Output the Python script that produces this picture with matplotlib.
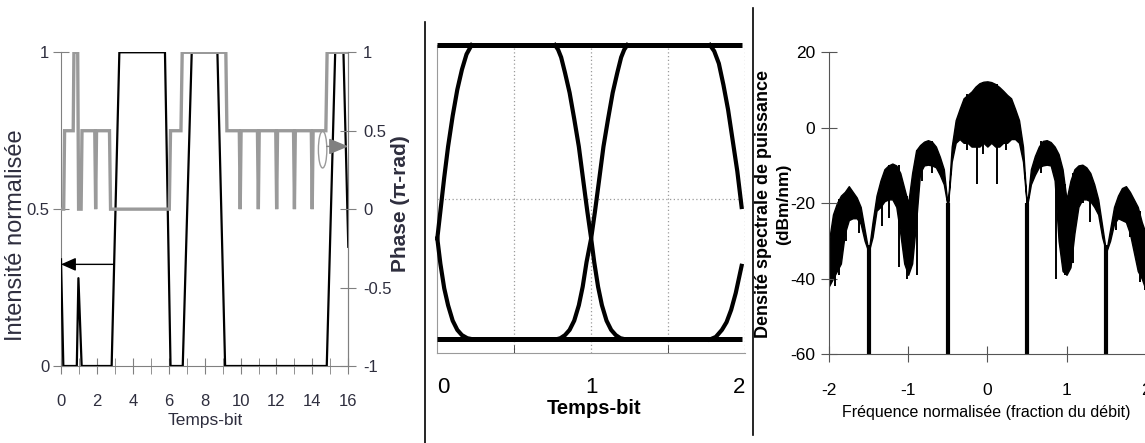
import matplotlib
matplotlib.use("Agg")
from matplotlib import pyplot as plt
from matplotlib.patches import Ellipse

plt.rcParams['font.family'] = ['Liberation Sans', 'DejaVu Sans']
plt.rcParams['axes.unicode_minus'] = False

W, H = 1145, 443

# ---- panel 1 : intensity / phase vs bit time ----
int_t = [0.0, 0.13, 0.88, 0.97, 1.15, 2.82, 3.25, 5.79, 6.1, 6.78, 7.28,
         8.71, 9.14, 14.8, 15.27, 15.73, 16.0]
int_v = [0.34, 0, 0, 0.28, 0, 0, 1, 1, 0, 0, 1, 1, 0, 0, 1, 1, 0.38]

phase_t = [0.0, 0.15, 0.2, 0.68, 0.72, 0.93, 0.98, 1.12, 1.17,
           1.88, 1.93, 1.98,
           2.70, 2.76, 6.03, 6.10, 6.68, 6.75, 9.18, 9.24,
           9.93, 9.98, 10.03,
           10.94, 10.99, 11.04,
           11.96, 12.01, 12.06,
           12.95, 13.00, 13.05,
           13.94, 13.99, 14.04,
           14.75, 14.82, 16.0]
phase_v = [0, 0, 0.5, 0.5, 1, 1, 0, 0, 0.5,
           0.5, 0, 0.5,
           0.5, 0, 0, 0.5, 0.5, 1, 1, 0.5,
           0.5, 0, 0.5,
           0.5, 0, 0.5,
           0.5, 0, 0.5,
           0.5, 0, 0.5,
           0.5, 0, 0.5,
           0.5, 1, 1]

# ---- panel 2 : eye diagram (bit time, normalised intensity) ----
eye_top = 1.0
eye_bottom = 0.044
eye_curves = [
    ([0.0, 0.02, 0.045, 0.07, 0.10, 0.13, 0.16, 0.19, 0.223],
     [0.372, 0.46, 0.57, 0.67, 0.77, 0.855, 0.92, 0.97, 1.0]),
    ([0.0, 0.02, 0.045, 0.07, 0.10, 0.13, 0.16, 0.195, 0.235],
     [0.372, 0.29, 0.21, 0.155, 0.105, 0.075, 0.058, 0.048, 0.044]),
    ([0.765, 0.785, 0.805, 0.83, 0.86, 0.89, 0.92, 0.95, 0.975, 1.0,
      1.02, 1.045, 1.07, 1.10, 1.13, 1.16, 1.19, 1.225],
     [1.0, 0.985, 0.96, 0.91, 0.845, 0.76, 0.67, 0.555, 0.46, 0.372,
      0.295, 0.215, 0.155, 0.105, 0.075, 0.058, 0.048, 0.044]),
    ([0.77, 0.80, 0.83, 0.86, 0.89, 0.92, 0.945, 0.97, 1.0,
      1.025, 1.05, 1.08, 1.11, 1.14, 1.17, 1.195, 1.215, 1.235],
     [0.044, 0.048, 0.058, 0.075, 0.105, 0.155, 0.215, 0.295, 0.372,
      0.46, 0.555, 0.67, 0.76, 0.845, 0.91, 0.96, 0.985, 1.0]),
    ([1.772, 1.80, 1.83, 1.86, 1.89, 1.92, 1.95, 1.978],
     [1.0, 0.98, 0.94, 0.87, 0.79, 0.69, 0.59, 0.474]),
    ([1.772, 1.81, 1.85, 1.88, 1.91, 1.94, 1.978],
     [0.044, 0.052, 0.075, 0.10, 0.14, 0.195, 0.283]),
]

# ---- panel 3 : power spectral density ----
freq = [-2.00, -1.95, -1.90, -1.85, -1.80, -1.75, -1.70, -1.65, -1.60, -1.55,
        -1.50, -1.45, -1.40, -1.35, -1.30, -1.25, -1.20, -1.15, -1.10, -1.05,
        -1.00, -0.95, -0.90, -0.85, -0.80, -0.75, -0.70, -0.65, -0.60, -0.55,
        -0.50, -0.45, -0.40, -0.35, -0.30, -0.25, -0.20, -0.15, -0.10, -0.05,
        0.00, 0.05, 0.10, 0.15, 0.20, 0.25, 0.30, 0.35, 0.40, 0.45,
        0.50, 0.55, 0.60, 0.65, 0.70, 0.75, 0.80, 0.85, 0.90, 0.95,
        1.00, 1.05, 1.10, 1.15, 1.20, 1.25, 1.30, 1.35, 1.40, 1.45,
        1.50, 1.55, 1.60, 1.65, 1.70, 1.75, 1.80, 1.85, 1.90, 1.95, 2.00]
psd_high = [-30, -23, -20, -18, -17, -15.5, -17, -18.5, -21, -27,
            -33, -25, -18, -14, -11, -10, -9.5, -10, -12, -16,
            -20, -12, -6, -4.6, -3.7, -3.3, -3.7, -5, -7.7, -11,
            -21, -5, 2, 5, 7.8, 8.7, 9.6, 10.9, 11.8, 12.2,
            12.3, 12.1, 11.6, 10.8, 9.8, 8.7, 7.8, 5, 2, -5,
            -21, -11, -7.5, -5, -3.5, -3.3, -3.8, -5, -7, -11,
            -19, -14, -11, -10, -9.8, -10.5, -12, -15, -19, -26,
            -33, -27, -21, -18, -16, -15.5, -17, -19, -21, -25, -28]
psd_low = [-42, -40, -38, -36, -28, -24.5, -24, -24, -25.5, -30,
           -33, -29, -22, -21, -19.5, -19, -19, -21, -28, -36,
           -39, -36, -25, -12, -10, -9.8, -10, -10.5, -12.5, -15,
           -21, -9, -4, -3, -4, -4, -5, -5, -5, -4,
           -5, -4, -5, -5, -4, -4, -3, -3, -4, -9,
           -21, -15, -12.5, -10.5, -10, -9.8, -10, -14, -30, -38,
           -39, -37, -28, -21, -19, -19, -19.5, -21, -23, -29,
           -33, -30, -25.5, -24, -24.5, -25, -28, -33, -38, -40, -43]
spike_f = [-1.93, -1.87, -1.78, -1.62, -1.33, -1.24, -1.12, -1.02, -0.89,
           -0.83, -0.70, -0.26, -0.135, -0.05, 0.12, 0.24, 0.68, 0.87, 0.98,
           1.08, 1.21, 1.30, 1.62, 1.80, 1.93, 1.99]
spike_db = [-42, -39, -30, -28, -26, -24, -37, -40, -39,
            -14, -12, -6, -15, -7, -15, -6, -12, -40, -39,
            -36, -20, -25, -27, -29, -41, -43]
spike_topdb = [-22, -19, -17, -20, -14, -10, -10, -18, -6,
               -4.5, -3.5, 9, 11, 12, 11.5, 9, -3.5, -6, -15,
               -12, -10, -12, -21, -17, -22, -27]
null_f = [-1.5, -0.5, 0.5, 1.5]
null_top = [-31, -20, -20, -31]

GREY = '#9a9a9a'
TXT = '#2e2e3e'

fig = plt.figure(figsize=(W / 100, H / 100), dpi=100)


def px_axes(l, t, r, b):
    return fig.add_axes([l / W, 1 - b / H, (r - l) / W, (b - t) / H])


# ================= panel 1 =================
ax1 = px_axes(61, 52.3, 348.3, 366)
ax1.plot(int_t, int_v, color='black', lw=1.6, zorder=3)
ax1.set_xlim(0, 16)
ax1.set_ylim(0, 1)
ax1.set_xticks(range(0, 17, 2))
ax1.set_xticks(range(1, 17, 2), minor=True)
ax1.set_yticks([0, 0.5, 1])
ax1.set_yticklabels(['0', '0.5', '1'])
ax1.spines['top'].set_visible(False)
for s in ['left', 'bottom', 'right']:
    ax1.spines[s].set_color('#808080')
ax1.tick_params(axis='both', which='both', direction='inout', color='#808080',
                labelsize=12, labelcolor=TXT)
ax1.tick_params(axis='x', which='both', length=11, pad=15)
ax1.tick_params(axis='y', length=11, pad=3)
ax1.annotate('', xy=(0, 0.324), xytext=(2.9, 0.324),
             arrowprops=dict(arrowstyle='-|>,head_length=0.9,head_width=0.4',
                             color='black', lw=1.0, shrinkA=0, shrinkB=0))

ax1r = ax1.twinx()
ax1r.plot(phase_t, phase_v, color=GREY, lw=2.4, solid_joinstyle='miter')
ax1r.set_ylim(-1, 1)
ax1r.set_yticks([-1, -0.5, 0, 0.5, 1])
ax1r.set_yticklabels(['-1', '-0.5', '0', '0.5', '1'])
for s in ['top', 'left', 'bottom']:
    ax1r.spines[s].set_visible(False)
ax1r.spines['right'].set_color('#808080')
ax1r.tick_params(axis='y', direction='inout', length=11, pad=5, color='#808080',
                 labelsize=12, labelcolor=TXT)
ax1r.add_patch(Ellipse((14.57, 0.38), 0.47, 0.235, fill=False,
                       edgecolor=GREY, lw=1.0))
ax1r.annotate('', xy=(16, 0.40), xytext=(14.8, 0.40),
              arrowprops=dict(arrowstyle='-|>,head_length=1.2,head_width=0.5',
                              color='#808080', lw=1.0, shrinkA=0, shrinkB=0))

fig.text(16 / W, 1 - 235 / H, 'Intensité normalisée', rotation=90,
         ha='center', va='center', fontsize=17, color=TXT)
fig.text(401 / W, 1 - 204 / H, 'Phase (π-rad)', rotation=90,
         ha='center', va='center', fontsize=15, color=TXT,
         fontweight='bold')
fig.text(205 / W, 1 - 421 / H, 'Temps-bit', ha='center', va='center',
         fontsize=12.5, color=TXT)

# ================= panel 2 =================
ax2 = px_axes(437.3, 45, 745, 353)
ax2.set_xlim(0, 2)
ax2.set_ylim(0, 1)
for xg in [0.5, 1, 1.5, 2]:
    ax2.axvline(xg, color='#9a9a9a', lw=0.9, ls=(0, (1, 2)), zorder=1)
ax2.axhline(0.5, color='#9a9a9a', lw=0.9, ls=(0, (1, 2)), zorder=1)
ax2.plot([0, 1.98], [eye_top, eye_top], color='black', lw=3.6,
         solid_capstyle='butt', clip_on=False, zorder=3)
ax2.plot([0, 1.98], [eye_bottom, eye_bottom], color='black', lw=3.6,
         solid_capstyle='butt', zorder=3)
for cx, cy in eye_curves:
    ax2.plot(cx, cy, color='black', lw=3.0, zorder=3, clip_on=False)
for s in ['top', 'right']:
    ax2.spines[s].set_visible(False)
for s in ['left', 'bottom']:
    ax2.spines[s].set_color(GREY)
ax2.set_yticks([])
ax2.set_xticks([0, 1, 2])
ax2.set_xticks([0.5, 1, 1.5], minor=True)
ax2.tick_params(axis='x', which='major', length=0, pad=17, labelsize=16)
ax2.tick_params(axis='x', which='minor', direction='in', length=6,
                color='#333333')
for lab, dx in zip(ax2.get_xticklabels(), ['left', 'center', 'right']):
    lab.set_horizontalalignment(dx)
fig.text(594 / W, 1 - 408 / H, 'Temps-bit', ha='center', va='center',
         fontsize=14.5, fontweight='bold')

# ================= panel 3 =================
ax3 = px_axes(829, 52.3, 1145.7, 354)
ax3.fill_between(freq, psd_low, psd_high, color='black', lw=1.0,
                 edgecolor='black')
ax3.vlines(spike_f, spike_db, spike_topdb, color='black', lw=1.4)
ax3.vlines(null_f, -60, null_top, color='black', lw=3.0)
ax3.set_xlim(-2, 2)
ax3.set_ylim(-60, 20)
ax3.set_xticks([-2, -1, 0, 1, 2])
ax3.set_yticks([-60, -40, -20, 0, 20])
for s in ['top', 'right']:
    ax3.spines[s].set_visible(False)
for s in ['left', 'bottom']:
    ax3.spines[s].set_color('#555555')
ax3.tick_params(axis='both', direction='inout', length=12, color='#555555',
                labelsize=12.5)
ax3.tick_params(axis='x', pad=15)
ax3.tick_params(axis='y', pad=4)
fig.text(763 / W, 1 - 204 / H, 'Densité spectrale de puissance',
         rotation=90, ha='center', va='center', fontsize=13,
         fontweight='bold')
fig.text(783.5 / W, 1 - 204 / H, '(dBm/nm)', rotation=90, ha='center',
         va='center', fontsize=12.5, fontweight='bold')
fig.text(986 / W, 1 - 412 / H, 'Fréquence normalisée (fraction du débit)',
         ha='center', va='center', fontsize=11.5)

# separators
fig.add_artist(plt.Line2D([425 / W, 425 / W], [0, 1 - 22 / H],
                          color='black', lw=1.2))
fig.add_artist(plt.Line2D([753 / W, 753 / W], [1 - 435 / H, 1 - 8 / H],
                          color='black', lw=1.2))

fig.savefig('out.png', dpi=100)
